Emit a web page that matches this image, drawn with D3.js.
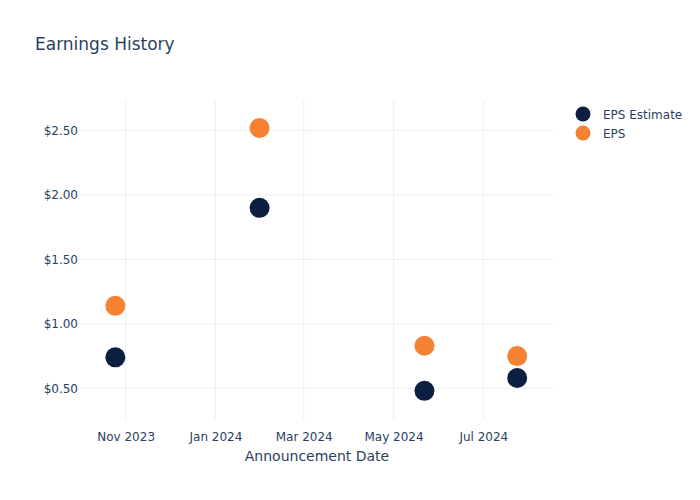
<!DOCTYPE html>
<html>
<head>
<meta charset="utf-8">
<script src="https://cdn.jsdelivr.net/npm/d3@7"></script>
<style>
  body { margin: 0; background: #fff; }
  svg { font-family: "DejaVu Sans", sans-serif; }
</style>
</head>
<body>
<svg id="chart" width="700" height="500"></svg>
<script>
const dates = ["2023-10-25", "2024-01-31", "2024-05-22", "2024-07-24"];
const epsEstimate = [0.74, 1.90, 0.48, 0.58];
const eps = [1.14, 2.52, 0.83, 0.75];
const seriesNames = ["EPS Estimate", "EPS"];
const seriesColors = ["#0c1f41", "#f58233"];
const xTickDates = ["2023-11-01", "2024-01-01", "2024-03-01", "2024-05-01", "2024-07-01"];
const yTickValues = [0.5, 1.0, 1.5, 2.0, 2.5];

const parse = d3.timeParse("%Y-%m-%d");
const svg = d3.select("#chart");
const m = { l: 80, r: 146, t: 100, b: 80 };
const W = 700, H = 500;
const textColor = "#2a3f5f";
const gridColor = "#ebf0f8";

const x = d3.scaleTime()
  .domain([parse("2023-10-01"), parse("2024-08-18")])
  .range([m.l, W - m.r]);
const y = d3.scaleLinear()
  .domain([0.254, 2.737])
  .range([H - m.b, m.t]);

// gridlines
const g = svg.append("g");
g.selectAll(".vg").data(xTickDates.map(parse)).enter().append("line")
  .attr("x1", d => x(d)).attr("x2", d => x(d))
  .attr("y1", m.t).attr("y2", H - m.b)
  .attr("stroke", gridColor).attr("stroke-width", 1);
g.selectAll(".hg").data(yTickValues).enter().append("line")
  .attr("x1", m.l).attr("x2", W - m.r)
  .attr("y1", d => y(d)).attr("y2", d => y(d))
  .attr("stroke", gridColor).attr("stroke-width", 1);

// axes
const fmtX = d3.timeFormat("%b %Y");
const xAxis = d3.axisBottom(x).tickValues(xTickDates.map(parse)).tickFormat(fmtX).tickSize(0).tickPadding(12);
const xg = svg.append("g").attr("transform", `translate(0,${H - m.b})`).call(xAxis);
xg.select(".domain").remove();
xg.selectAll("text").attr("fill", textColor).style("font-size", "12px").style("font-family", "DejaVu Sans");

const yAxis = d3.axisLeft(y).tickValues(yTickValues).tickFormat(d => "$" + d3.format(".2f")(d)).tickSize(0).tickPadding(2);
const yg = svg.append("g").attr("transform", `translate(${m.l},0)`).call(yAxis);
yg.select(".domain").remove();
yg.selectAll("text").attr("fill", textColor).style("font-size", "12px").style("font-family", "DejaVu Sans");

// points
const seriesData = [epsEstimate, eps];
seriesData.forEach((vals, si) => {
  svg.append("g").selectAll("circle").data(vals).enter().append("circle")
    .attr("cx", (d, i) => x(parse(dates[i])))
    .attr("cy", d => y(d))
    .attr("r", 10)
    .attr("fill", seriesColors[si]);
});

// title
svg.append("text").attr("x", 35).attr("y", 50)
  .attr("fill", textColor).style("font-size", "17px").text("Earnings History");

// x axis title
svg.append("text").attr("x", (m.l + W - m.r) / 2).attr("y", 461)
  .attr("text-anchor", "middle").attr("fill", textColor).style("font-size", "14px")
  .text("Announcement Date");

// legend
const lg = svg.append("g");
seriesNames.forEach((n, i) => {
  const yy = 114 + i * 19;
  lg.append("circle").attr("cx", 583).attr("cy", yy).attr("r", 7.5).attr("fill", seriesColors[i]);
  lg.append("text").attr("x", 603).attr("y", yy + 4.5).attr("fill", textColor)
    .style("font-size", "12px").text(n);
});
</script>
</body>
</html>
